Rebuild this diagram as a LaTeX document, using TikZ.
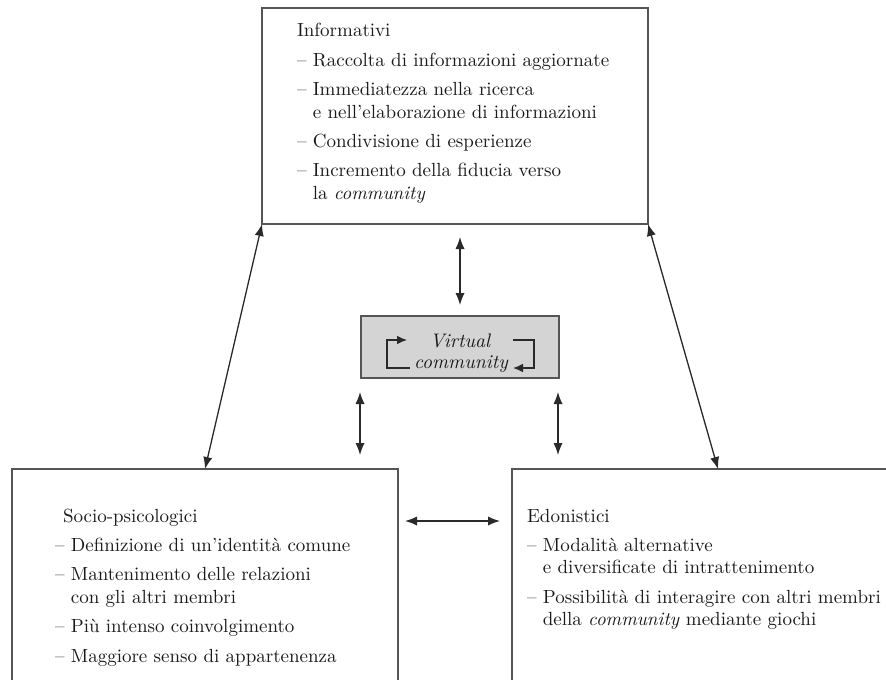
\documentclass[tikz,border=0pt]{standalone}
\usetikzlibrary{arrows.meta}
\definecolor{boxline}{HTML}{555555}
\definecolor{arrline}{HTML}{2A2A2A}
\definecolor{txtcol}{HTML}{1A1A1A}
\definecolor{vcfill}{HTML}{D4D4D4}
\newcommand{\cont}{\hphantom{– }}
\begin{document}
\begin{tikzpicture}[x=0.5pt,y=-0.5pt,
  box/.style={draw=boxline,line width=1pt,inner sep=0pt,outer sep=0pt},
  txt/.style={inner sep=0pt,outer sep=0pt,text=txtcol,font=\fontsize{9.5}{11.2}\selectfont},
  dbl/.style={draw=arrline,line width=0.65pt,{Latex[length=6pt,width=4.6pt]}-{Latex[length=6pt,width=4.6pt]}},
  loop/.style={draw=arrline,line width=0.65pt,-{Latex[length=5pt,width=4.4pt]}}]
\useasboundingbox (0,0) rectangle (886,679);
\clip (0,0) rectangle (886,679);
% boxes
\node[box,minimum width=193pt,minimum height=108pt] (info) at (455,116) {};
\node[box,minimum width=193pt,minimum height=120pt] (soc) at (205,589) {};
\node[box,minimum width=200pt,minimum height=120pt] (edo) at (712,589) {};
\node[box,fill=vcfill,minimum width=99pt,minimum height=31pt] (vc) at (460,347) {};
% texts
\node[txt,anchor=base west] (infotext) at (297,37) {\begin{tabular}[t]{@{}l@{}}
Informativi\\[3.5pt]
– Raccolta di informazioni aggiornate\\[3.5pt]
– Immediatezza nella ricerca\\
\cont e nell'elaborazione di informazioni\\[3.5pt]
– Condivisione di esperienze\\[3.5pt]
– Incremento della fiducia verso\\
\cont la \textit{community}
\end{tabular}};
\node[txt,anchor=base west] (soctext) at (55,522) {\begin{tabular}[t]{@{}l@{}}
\hspace{4pt}Socio-psicologici\\[3.5pt]
– Definizione di un'identità comune\\[3.5pt]
– Mantenimento delle relazioni\\
\cont con gli altri membri\\[3.5pt]
– Più intenso coinvolgimento\\[3.5pt]
– Maggiore senso di appartenenza
\end{tabular}};
\node[txt,anchor=base west] (edotext) at (527,522) {\begin{tabular}[t]{@{}l@{}}
Edonistici\\[3.5pt]
– Modalità alternative\\
\cont e diversificate di intrattenimento\\[3.5pt]
– Possibilità di interagire con altri membri\\
\cont della \textit{community} mediante giochi
\end{tabular}};
\node[txt,anchor=base,font=\fontsize{9.8}{10.5}\selectfont\itshape] (vt1) at (460,347) {Virtual};
\node[txt,anchor=base,font=\fontsize{9.8}{10.5}\selectfont\itshape] (vt2) at (461,368) {community};
% loop arrows inside the virtual community box
\draw[loop] (410,368) -- (387,368) -- (387,340) -- (407,340);
\draw[loop] (513,340) -- (534,340) -- (534,368) -- (513,368);
% connector end points
\coordinate (socTop) at (205,469);
\coordinate (edoTop) at (718,469);
\coordinate (infoB) at (460,237);
\coordinate (vcT) at (460,305);
\coordinate (vcBL) at (360,392);
\coordinate (socR) at (360,455);
\coordinate (vcBR) at (558,392);
\coordinate (edoR) at (558,455);
\coordinate (socE) at (405,521);
\coordinate (edoW) at (500,521);
% connectors
\draw[dbl] (info.south west) -- (socTop);
\draw[dbl] (info.south east) -- (edoTop);
\draw[dbl] (infoB) -- (vcT);
\draw[dbl] (vcBL) -- (socR);
\draw[dbl] (vcBR) -- (edoR);
\draw[dbl] (socE) -- (edoW);
\end{tikzpicture}
\end{document}
